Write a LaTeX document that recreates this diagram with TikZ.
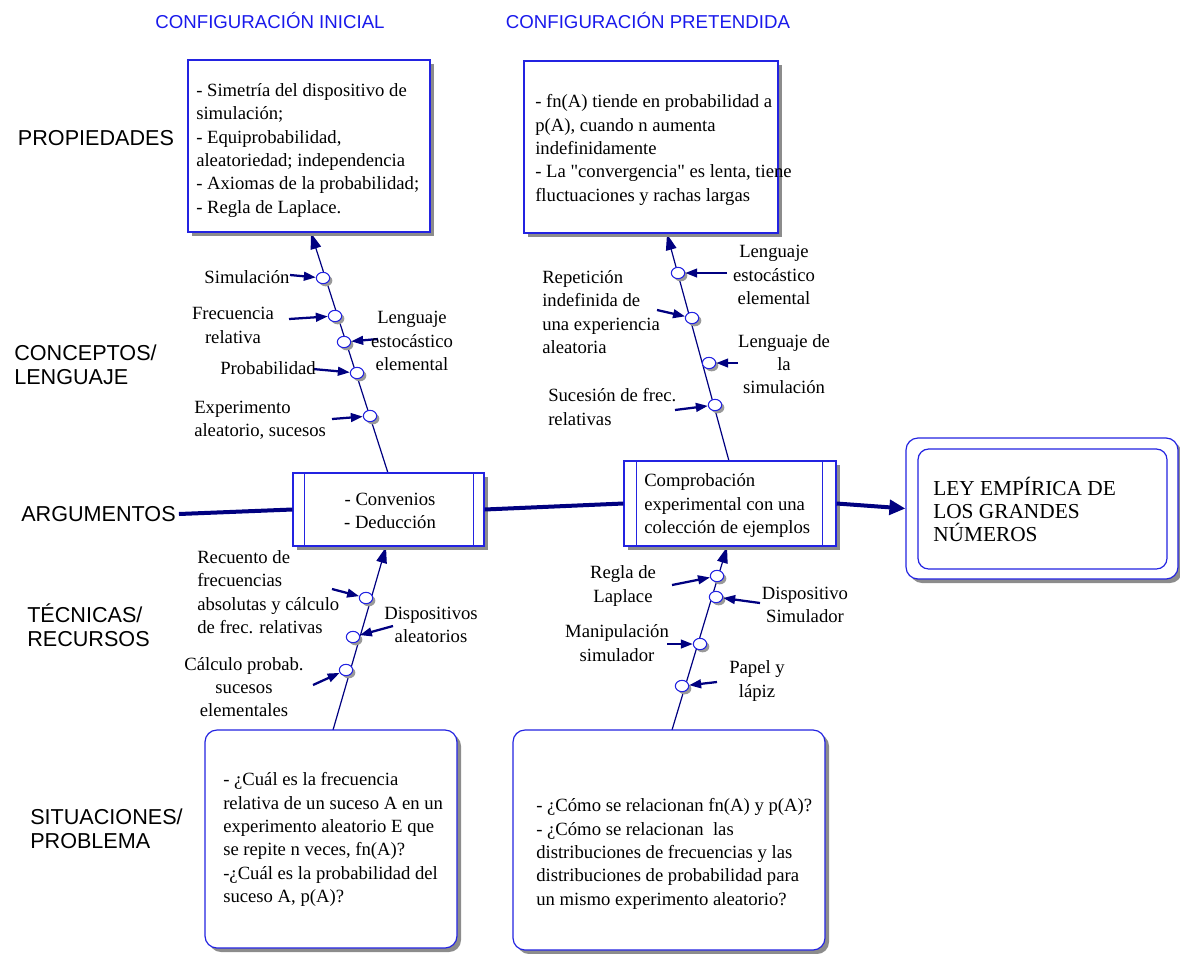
\documentclass[tikz,border=0pt]{standalone}
\usepackage{fontspec}
\setmainfont{Liberation Serif}[Ligatures=TeXOff]
\newfontfamily\labfont{Liberation Sans}
\usetikzlibrary{shapes.geometric,shadows,arrows.meta,calc}
\definecolor{boxblue}{RGB}{35,35,225}
\definecolor{navy}{RGB}{0,0,128}
\definecolor{titleblue}{RGB}{25,25,235}

\begin{document}
\begin{tikzpicture}[x=0.75pt,y=-0.75pt,
  shad/.style={drop shadow={shadow xshift=3pt,shadow yshift=-3pt,fill=black!45,opacity=1}},
  box/.style={draw=boxblue,line width=0.9pt,fill=white,inner sep=0pt,shad},
  rbox/.style={box,rounded corners=9pt},
  txt/.style={font=\fontsize{14}{17.5}\selectfont,inner sep=0pt,align=left},
  ctxt/.style={txt,align=center},
  lab/.style={font=\labfont\fontsize{16.2}{18}\selectfont,inner sep=0pt,align=left},
  title/.style={font=\labfont\fontsize{14}{17}\selectfont,text=titleblue,inner sep=0pt},
  spine/.style={draw=navy,line width=0.9pt,-{Triangle[length=12pt,width=8pt]}},
  feed/.style={draw=navy,line width=1.7pt,-{Triangle[length=9pt,width=6.5pt]}},
  mainline/.style={draw=navy,line width=3pt},
  dot/.style={ellipse,draw=boxblue,fill=white,line width=0.8pt,minimum width=10pt,minimum height=8.5pt,inner sep=0pt,
    drop shadow={shadow xshift=2pt,shadow yshift=-2pt,fill=black!40,opacity=1}}
]
\useasboundingbox (0,0) rectangle (1180,953);

% column titles
\node[title] (t1) at (270,20) {CONFIGURACIÓN INICIAL};
\node[title] (t2) at (648,20) {CONFIGURACIÓN PRETENDIDA};

% row labels
\node[lab] (lab-prop) at (96,138) {PROPIEDADES};
\node[lab,anchor=west] (lab-conc) at (14,365) {CONCEPTOS/\\LENGUAJE};
\node[lab,anchor=west] (lab-arg) at (21,514) {ARGUMENTOS};
\node[lab,anchor=west] (lab-tec) at (27,625) {TÉCNICAS/\\RECURSOS};
\node[lab,anchor=west] (lab-sit) at (30,829) {SITUACIONES/\\PROBLEMA};

% spine end points
\coordinate (s1b) at (388,473);
\coordinate (s1t) at (311,233);
\coordinate (s2b) at (333,730);
\coordinate (s2t) at (386,547);
\coordinate (s3b) at (729,461);
\coordinate (s3t) at (667,234);
\coordinate (s4b) at (672,730);
\coordinate (s4t) at (727,547);

\draw[spine] (s1b) -- (s1t);
\draw[spine] (s2b) -- (s2t);
\draw[spine] (s3b) -- (s3t);
\draw[spine] (s4b) -- (s4t);

% boxes
\node[box,minimum width=181.5pt,minimum height=129pt] (pL) at (309,146) {};
\node[txt,anchor=west] (pLt) at (196,150.5) {- Simetría del dispositivo de\\simulación;\\- Equiprobabilidad,\\aleatoriedad; independencia\\- Axiomas de la probabilidad;\\- Regla de Laplace.};

\node[box,minimum width=190.5pt,minimum height=129pt] (pR) at (651,147) {};
\node[txt,anchor=west] (pRt) at (535,150) {- fn(A) tiende en probabilidad a\\p(A), cuando n aumenta\\indefinidamente\\- La "convergencia" es lenta, tiene\\fluctuaciones y rachas largas};

\node[box,minimum width=143.25pt,minimum height=54.75pt] (argL) at (388.5,509.5) {};
\draw[draw=boxblue,line width=0.9pt] ($(argL.north west)+(12,0)$) -- ($(argL.south west)+(12,0)$)
  ($(argL.north east)+(-11,0)$) -- ($(argL.south east)+(-11,0)$);
\node[ctxt] (argLt) at (390,511) {- Convenios\\- Deducción};

\node[box,minimum width=159pt,minimum height=63.75pt] (argR) at (730,503.5) {};
\draw[draw=boxblue,line width=0.9pt] ($(argR.north west)+(13,0)$) -- ($(argR.south west)+(13,0)$)
  ($(argR.north east)+(-14,0)$) -- ($(argR.south east)+(-14,0)$);
\node[txt,anchor=west] (argRt) at (644,505.5) {Comprobación\\experimental con una\\colección de ejemplos};

\node[rbox,minimum width=204pt,minimum height=105.75pt] (ley) at (1042,508.5) {};
\node[draw=boxblue,line width=0.9pt,rounded corners=8pt,inner sep=0pt,minimum width=186.75pt,minimum height=90pt] (leyin) at (1042.5,509) {};
\node[txt,anchor=west,font=\fontsize{16}{17.25}\selectfont] (leyt) at (933,509) {LEY EMPÍRICA DE\\LOS GRANDES\\NÚMEROS};

\node[rbox,minimum width=189pt,minimum height=163.5pt] (sitL) at (331,839) {};
\node[txt,anchor=west] (sitLt) at (223,839.5) {- ¿Cuál es la frecuencia\\relativa de un suceso A en un\\experimento aleatorio E que\\se repite n veces, fn(A)?\\-¿Cuál es la probabilidad del\\suceso A, p(A)?};

\node[rbox,minimum width=234pt,minimum height=165pt] (sitR) at (669,840) {};
\node[txt,anchor=west] (sitRt) at (536,854) {- ¿Cómo se relacionan fn(A) y p(A)?\\- ¿Cómo se relacionan\ \ las\\distribuciones de frecuencias y las\\distribuciones de probabilidad para\\un mismo experimento aleatorio?};

% main axis
\draw[mainline] ($(lab-arg.east)+(3,0)$) -- (argL.west);
\draw[mainline] (argL.east) -- (argR.west);
\draw[mainline,-{Triangle[length=12pt,width=11pt]}] (argR.east) -- (ley.west);

% circles on the spines
\node[dot] (c11) at (323,278) {};
\node[dot] (c12) at (335,316) {};
\node[dot] (c13) at (344,342) {};
\node[dot] (c14) at (357,373) {};
\node[dot] (c15) at (370,416) {};

\node[dot] (c21) at (366,598) {};
\node[dot] (c22) at (353,637) {};
\node[dot] (c23) at (346,670) {};

\node[dot] (c31) at (678,273) {};
\node[dot] (c32) at (692,318) {};
\node[dot] (c33) at (709,363) {};
\node[dot] (c34) at (715,405) {};

\node[dot] (c41) at (717,576) {};
\node[dot] (c42) at (716,597) {};
\node[dot] (c43) at (700,644) {};
\node[dot] (c44) at (682,686) {};

% feeding arrows
\coordinate (f11) at (290,275);
\coordinate (f12) at (289,319);
\coordinate (f13) at (378,339);
\coordinate (f14) at (313,369);
\coordinate (f15) at (332,419);
\coordinate (f21) at (332,589);
\coordinate (f22) at (393,626);
\coordinate (f23) at (313,685);
\coordinate (f31) at (727,273);
\coordinate (f32) at (657,310);
\coordinate (f33) at (738,363);
\coordinate (f34) at (675,410);
\coordinate (f41) at (672,585);
\coordinate (f42) at (760,603);
\coordinate (f43) at (667,644);
\coordinate (f44) at (717,682);

\foreach \i in {11,12,13,14,15,21,22,23,31,32,33,34,41,42,43,44}
  \draw[feed] (f\i) -- (c\i);

% labels of the first column
\node[txt] (l11) at (247,277) {Simulación};
\node[ctxt] (l12) at (233,325.5) {Frecuencia\\relativa};
\node[ctxt] (l13) at (412,341) {Lenguaje\\estocástico\\elemental};
\node[txt] (l14) at (268,368) {Probabilidad};
\node[txt,anchor=west] (l15) at (194,420) {Experimento\\aleatorio, sucesos};
\node[txt,anchor=west] (l21) at (197,592) {Recuento de\\frecuencias\\absolutas y cálculo\\de frec. relativas};
\node[ctxt] (l22) at (431,625) {Dispositivos\\aleatorios};
\node[ctxt] (l23) at (244,687) {Cálculo probab.\\sucesos\\elementales};

% labels of the second column
\node[ctxt] (l31) at (774,275) {Lenguaje\\estocástico\\elemental};
\node[txt,anchor=west] (l32) at (542,312) {Repetición\\indefinida de\\una experiencia\\aleatoria};
\node[ctxt] (l33) at (784,364) {Lenguaje de\\la\\simulación};
\node[txt,anchor=west] (l34) at (548,407) {Sucesión de frec.\\relativas};
\node[ctxt] (l41) at (623,586) {Regla de\\Laplace};
\node[ctxt] (l42) at (805,605) {Dispositivo\\Simulador};
\node[ctxt] (l43) at (617,643) {Manipulación\\simulador};
\node[ctxt] (l44) at (757,681) {Papel y\\lápiz};
\end{tikzpicture}
\end{document}
